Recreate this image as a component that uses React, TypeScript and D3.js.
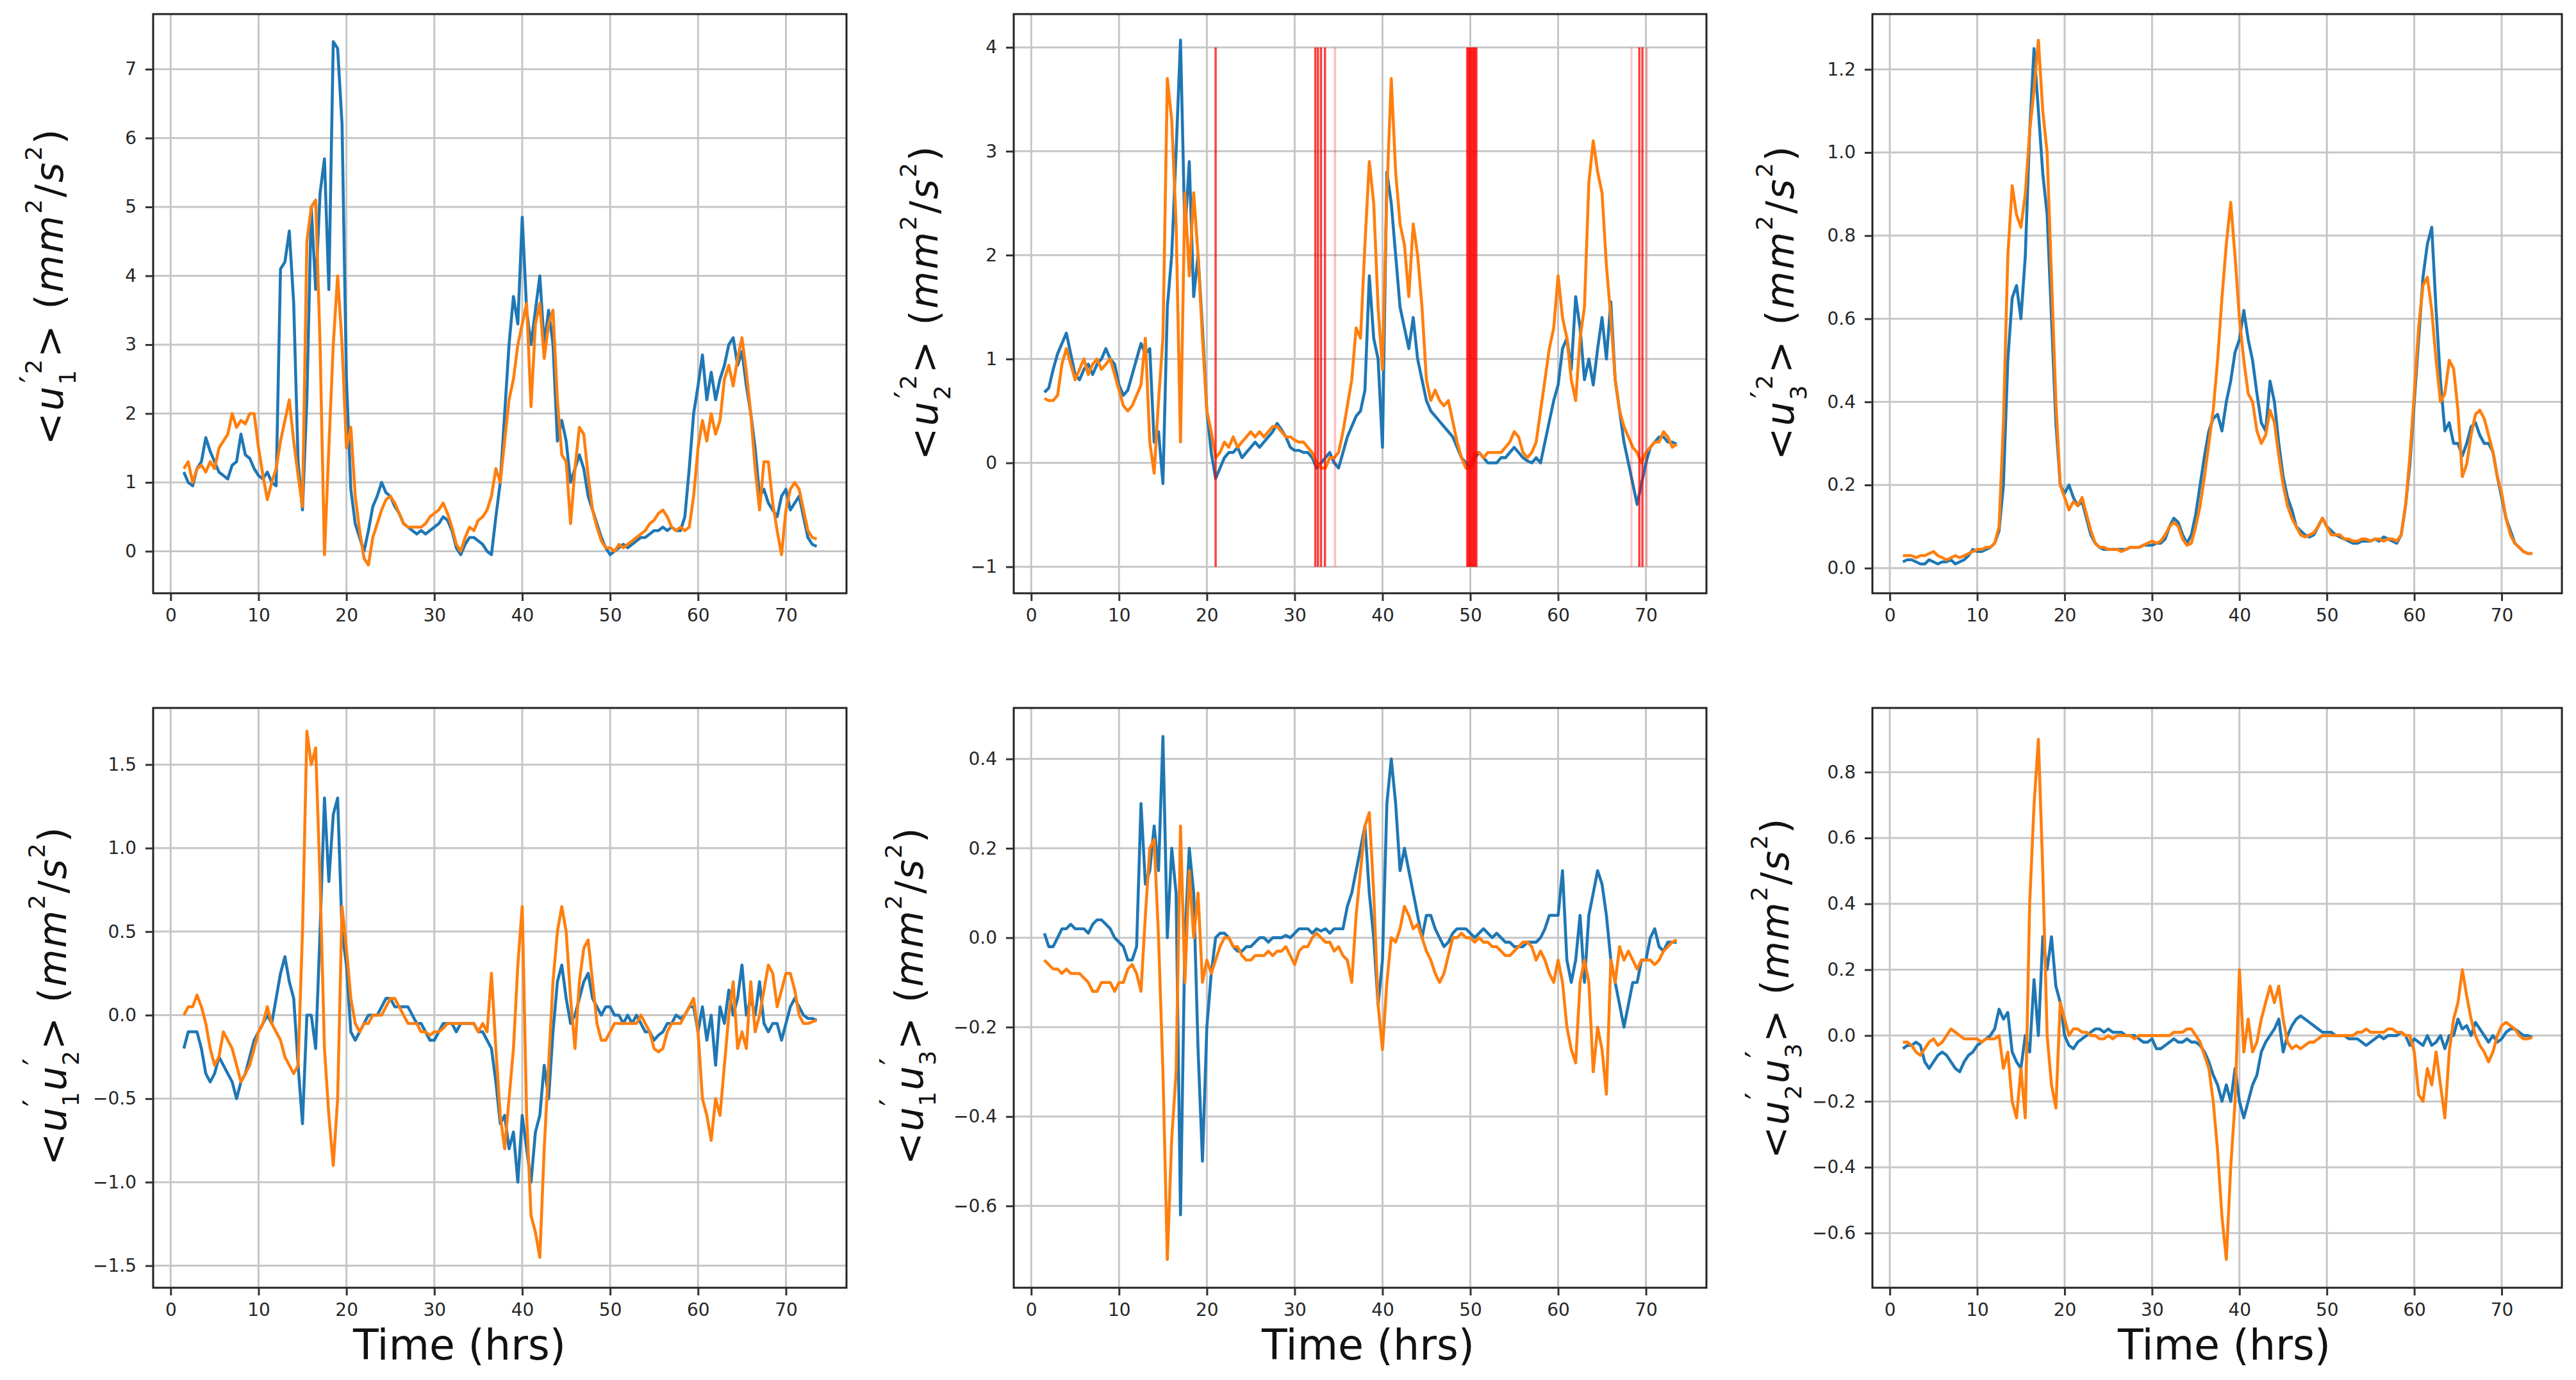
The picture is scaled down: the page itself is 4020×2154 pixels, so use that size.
// Velocity fluctuation statistics - 2x3 grid of time series
import React, { useEffect, useRef } from 'react';
import * as d3 from 'd3';

// time axis (hrs): one reading every half hour, 1.5 .. 73.5
const hours = d3.range(145).map(i => 1.5 + i * 0.5);

// <u1'^2>
const u11Blue = [
  1.15, 1.0, 0.95, 1.2, 1.3, 1.65, 1.45, 1.3, 1.15, 1.1,
  1.05, 1.25, 1.3, 1.7, 1.4, 1.35, 1.2, 1.1, 1.05, 1.15,
  1.0, 0.95, 4.1, 4.2, 4.65, 3.6, 1.3, 0.6, 2.2, 5.0,
  3.8, 5.2, 5.7, 3.8, 7.4, 7.3, 6.2, 2.5, 0.9, 0.4,
  0.2, 0.0, 0.3, 0.65, 0.8, 1.0, 0.85, 0.8, 0.65, 0.55,
  0.4, 0.35, 0.3, 0.25, 0.3, 0.25, 0.3, 0.35, 0.4, 0.5,
  0.45, 0.3, 0.05, -0.05, 0.1, 0.2, 0.2, 0.15, 0.1, 0.0,
  -0.05, 0.5, 1.0, 2.0, 3.0, 3.7, 3.3, 4.85, 3.5, 3.0,
  3.5, 4.0, 3.0, 3.5, 3.0, 1.6, 1.9, 1.6, 1.0, 1.2,
  1.4, 1.2, 0.8, 0.6, 0.4, 0.2, 0.05, -0.05, 0.0, 0.05,
  0.1, 0.05, 0.1, 0.15, 0.2, 0.2, 0.25, 0.3, 0.3, 0.35,
  0.3, 0.35, 0.3, 0.3, 0.5, 1.2, 2.0, 2.4, 2.85, 2.2,
  2.6, 2.2, 2.5, 2.7, 3.0, 3.1, 2.7, 2.9, 2.4, 2.0,
  1.5, 0.8, 0.9, 0.7, 0.6, 0.5, 0.8, 0.9, 0.6, 0.7,
  0.8, 0.5, 0.2, 0.1, 0.07
];
const u11Orange = [
  1.2, 1.3, 1.0, 1.2, 1.25, 1.15, 1.3, 1.2, 1.5, 1.6,
  1.7, 2.0, 1.8, 1.9, 1.85, 2.0, 2.0, 1.5, 1.1, 0.75,
  1.0, 1.2, 1.6, 1.9, 2.2, 1.6, 1.1, 0.65, 4.5, 5.0,
  5.1, 3.0, -0.05, 1.5, 3.0, 4.0, 3.0, 1.5, 1.8, 0.8,
  0.3, -0.1, -0.2, 0.2, 0.4, 0.6, 0.75, 0.8, 0.7, 0.55,
  0.4, 0.35, 0.35, 0.35, 0.35, 0.4, 0.5, 0.55, 0.6, 0.7,
  0.55, 0.35, 0.1, 0.0, 0.2, 0.35, 0.3, 0.45, 0.5, 0.6,
  0.8, 1.2, 1.0, 1.6, 2.2, 2.5, 3.0, 3.3, 3.6, 2.1,
  3.3, 3.6, 2.8, 3.3, 3.5, 2.2, 1.4, 1.3, 0.4, 1.2,
  1.8, 1.7, 1.1, 0.6, 0.35, 0.15, 0.05, 0.05, 0.0, 0.1,
  0.05, 0.1, 0.15, 0.2, 0.25, 0.3, 0.4, 0.45, 0.55, 0.6,
  0.5, 0.35, 0.3, 0.35, 0.3, 0.35, 0.8, 1.5, 1.9, 1.6,
  2.0, 1.7, 1.9, 2.5, 2.7, 2.4, 2.8, 3.1, 2.6, 2.0,
  1.2, 0.6, 1.3, 1.3, 0.7, 0.3, -0.05, 0.6, 0.9, 1.0,
  0.9, 0.6, 0.3, 0.2, 0.18
];

// <u2'^2>
const u22Blue = [
  0.68, 0.72, 0.9, 1.05, 1.15, 1.25, 1.05, 0.85, 0.8, 0.9,
  0.95, 0.85, 0.95, 1.0, 1.1, 1.0, 0.95, 0.75, 0.65, 0.7,
  0.85, 1.0, 1.15, 1.05, 1.1, 0.2, 0.3, -0.2, 1.5, 2.0,
  3.0, 4.07, 2.2, 2.9, 1.6, 2.0, 1.3, 0.5, 0.1, -0.15,
  -0.05, 0.05, 0.1, 0.1, 0.15, 0.05, 0.1, 0.15, 0.2, 0.15,
  0.2, 0.25, 0.3, 0.38, 0.32, 0.25, 0.15, 0.12, 0.12, 0.1,
  0.1, 0.05, -0.05, 0.0, 0.05, 0.1, 0.0, -0.05, 0.1, 0.25,
  0.35, 0.45, 0.5, 0.7, 1.8, 1.2, 1.0, 0.15, 2.8, 2.5,
  2.0, 1.5, 1.3, 1.1, 1.4, 1.0, 0.8, 0.6, 0.5, 0.45,
  0.4, 0.35, 0.3, 0.25, 0.15, 0.05, 0.0, -0.05, 0.05, 0.1,
  0.05, 0.0, 0.0, 0.0, 0.05, 0.05, 0.1, 0.15, 0.1, 0.05,
  0.02, 0.0, 0.05, 0.0, 0.2, 0.4, 0.6, 0.75, 1.1, 1.2,
  0.9, 1.6, 1.3, 0.8, 1.0, 0.75, 1.1, 1.4, 1.0, 1.55,
  0.8, 0.5, 0.2, 0.0, -0.2, -0.4, -0.2, 0.0, 0.15, 0.2,
  0.25, 0.25, 0.2, 0.2, 0.18
];
const u22Orange = [
  0.62, 0.6, 0.6, 0.65, 0.95, 1.1, 0.95, 0.8, 0.9, 1.0,
  0.85, 0.95, 1.0, 0.9, 0.95, 1.0, 0.85, 0.7, 0.55, 0.5,
  0.55, 0.65, 0.75, 1.2, 0.2, -0.1, 0.6, 1.2, 3.7, 3.3,
  2.3, 0.2, 2.6, 1.8, 2.6, 2.0, 1.2, 0.5, 0.3, 0.05,
  0.1, 0.2, 0.15, 0.25, 0.15, 0.2, 0.25, 0.3, 0.25, 0.3,
  0.25, 0.3, 0.35, 0.35, 0.3, 0.25, 0.25, 0.22, 0.2, 0.2,
  0.15, 0.1, 0.0, -0.05, -0.05, 0.05, 0.05, 0.1, 0.3, 0.55,
  0.8, 1.3, 1.2, 2.1, 2.9, 2.5, 1.5, 0.9, 2.6, 3.7,
  2.8, 2.3, 2.1, 1.6, 2.3, 2.0, 1.5, 0.8, 0.6, 0.7,
  0.6, 0.55, 0.6, 0.4, 0.2, 0.05, -0.05, -0.05, 0.1, 0.1,
  0.05, 0.1, 0.1, 0.1, 0.1, 0.15, 0.2, 0.3, 0.25, 0.1,
  0.05, 0.1, 0.2, 0.5, 0.8, 1.1, 1.3, 1.8, 1.4, 1.2,
  0.8, 0.6, 1.2, 1.5, 2.7, 3.1, 2.8, 2.6, 1.9, 1.4,
  0.8, 0.5, 0.35, 0.25, 0.15, 0.1, 0.0, 0.1, 0.15, 0.2,
  0.2, 0.3, 0.25, 0.15, 0.18
];

// <u3'^2>
const u33Blue = [
  0.015, 0.02, 0.02, 0.015, 0.01, 0.01, 0.02, 0.015, 0.01, 0.015,
  0.015, 0.02, 0.01, 0.015, 0.02, 0.03, 0.045, 0.04, 0.04, 0.045,
  0.05, 0.06, 0.09, 0.2, 0.5, 0.65, 0.68, 0.6, 0.75, 1.05,
  1.25, 1.1, 0.95, 0.85, 0.6, 0.35, 0.2, 0.18, 0.2, 0.17,
  0.15, 0.16, 0.12, 0.08, 0.06, 0.05, 0.045, 0.045, 0.045, 0.045,
  0.045, 0.045, 0.05, 0.05, 0.05, 0.055, 0.055, 0.055, 0.06, 0.06,
  0.07, 0.1, 0.12, 0.11, 0.08, 0.06, 0.08, 0.13, 0.2, 0.27,
  0.33, 0.36, 0.37, 0.33, 0.4, 0.45, 0.52, 0.55, 0.62, 0.55,
  0.5, 0.42, 0.35, 0.33, 0.45, 0.4, 0.3, 0.22, 0.17, 0.14,
  0.1, 0.09, 0.08, 0.075, 0.08, 0.1, 0.12, 0.1, 0.09, 0.08,
  0.075, 0.07, 0.065, 0.06, 0.06, 0.065, 0.065, 0.065, 0.07, 0.065,
  0.075, 0.07, 0.065, 0.06, 0.08, 0.15, 0.25, 0.4, 0.55, 0.7,
  0.78, 0.82, 0.62, 0.45, 0.33, 0.35, 0.3, 0.3, 0.27, 0.3,
  0.34, 0.35, 0.32, 0.3, 0.3, 0.28, 0.22, 0.17, 0.12, 0.09,
  0.06, 0.05, 0.04, 0.035, 0.035
];
const u33Orange = [
  0.03, 0.03, 0.03, 0.025, 0.03, 0.03, 0.035, 0.04, 0.03, 0.025,
  0.02, 0.025, 0.03, 0.025, 0.03, 0.035, 0.04, 0.045, 0.045, 0.05,
  0.05, 0.06, 0.1, 0.35, 0.75, 0.92, 0.85, 0.82, 0.9, 1.05,
  1.15, 1.27, 1.1, 1.0, 0.7, 0.4, 0.2, 0.17, 0.14, 0.16,
  0.15, 0.17, 0.13, 0.09, 0.06, 0.05, 0.05, 0.045, 0.045, 0.045,
  0.04, 0.045, 0.05, 0.05, 0.05, 0.055, 0.06, 0.065, 0.06, 0.065,
  0.08, 0.1, 0.11, 0.1, 0.07, 0.055, 0.06, 0.1, 0.15, 0.22,
  0.3, 0.38, 0.5, 0.65, 0.78, 0.88, 0.75, 0.6, 0.5, 0.42,
  0.4, 0.33, 0.3, 0.32, 0.38, 0.35, 0.27, 0.2, 0.15, 0.12,
  0.1, 0.08, 0.075, 0.08, 0.085, 0.1, 0.12, 0.1, 0.08, 0.08,
  0.08, 0.07, 0.07, 0.065, 0.065, 0.07, 0.07, 0.065, 0.07, 0.07,
  0.065, 0.07, 0.07, 0.065, 0.08, 0.15, 0.27, 0.42, 0.58, 0.68,
  0.7, 0.62, 0.5, 0.4, 0.42, 0.5, 0.48, 0.38, 0.22, 0.25,
  0.32, 0.37, 0.38, 0.36, 0.32, 0.28, 0.22, 0.18, 0.12, 0.08,
  0.06, 0.05, 0.04, 0.035, 0.035
];

// <u1'u2'>
const u12Blue = [
  -0.2, -0.1, -0.1, -0.1, -0.2, -0.35, -0.4, -0.35, -0.25, -0.3,
  -0.35, -0.4, -0.5, -0.4, -0.35, -0.25, -0.15, -0.1, -0.05, 0.0,
  -0.05, 0.1, 0.25, 0.35, 0.2, 0.1, -0.3, -0.65, 0.0, 0.0,
  -0.2, 0.5, 1.3, 0.8, 1.2, 1.3, 0.5, 0.3, -0.1, -0.15,
  -0.1, -0.05, 0.0, 0.0, 0.0, 0.05, 0.1, 0.1, 0.05, 0.05,
  0.05, 0.05, 0.0, -0.05, -0.05, -0.1, -0.15, -0.15, -0.1, -0.05,
  -0.05, -0.05, -0.1, -0.05, -0.05, -0.05, -0.05, -0.1, -0.1, -0.15,
  -0.2, -0.4, -0.65, -0.6, -0.8, -0.7, -1.0, -0.6, -0.8, -1.0,
  -0.7, -0.6, -0.3, -0.5, -0.1, 0.2, 0.3, 0.1, -0.05, 0.0,
  0.1, 0.2, 0.25, 0.1, 0.05, 0.0, 0.05, 0.05, 0.0, 0.0,
  -0.05, 0.0, -0.05, 0.0, -0.05, -0.1, -0.1, -0.15, -0.12, -0.1,
  -0.05, -0.05, 0.0, -0.02, 0.0, 0.05, 0.05, -0.1, 0.05, -0.15,
  0.0, -0.3, 0.05, -0.05, 0.15, 0.0, 0.1, 0.3, 0.0, 0.1,
  0.0, 0.2, -0.05, -0.1, -0.05, -0.05, -0.15, -0.05, 0.05, 0.1,
  0.05, 0.0, -0.02, -0.02, -0.03
];
const u12Orange = [
  0.0, 0.05, 0.05, 0.12, 0.05, -0.05, -0.2, -0.3, -0.25, -0.1,
  -0.15, -0.2, -0.3, -0.4, -0.35, -0.3, -0.2, -0.1, -0.05, 0.05,
  -0.05, -0.1, -0.15, -0.25, -0.3, -0.35, -0.3, 0.5, 1.7, 1.5,
  1.6, 0.8, -0.2, -0.6, -0.9, -0.5, 0.65, 0.4, 0.1, -0.05,
  -0.1, -0.05, -0.05, 0.0, 0.0, 0.0, 0.05, 0.1, 0.1, 0.05,
  0.0, -0.05, -0.05, -0.05, -0.1, -0.1, -0.12, -0.1, -0.1, -0.08,
  -0.05, -0.05, -0.05, -0.05, -0.05, -0.05, -0.05, -0.1, -0.05, -0.1,
  0.25, -0.2, -0.6, -0.8, -0.5, -0.2, 0.3, 0.65, -0.6, -1.2,
  -1.3, -1.45, -0.8, -0.3, 0.2, 0.5, 0.65, 0.5, 0.1, -0.2,
  0.2, 0.4, 0.45, 0.2, -0.05, -0.15, -0.15, -0.1, -0.05, -0.05,
  -0.05, -0.05, -0.05, -0.05, 0.0, -0.05, -0.1, -0.2, -0.22, -0.2,
  -0.1, -0.05, -0.05, -0.05, 0.0, 0.05, 0.1, -0.1, -0.5, -0.6,
  -0.75, -0.5, -0.6, -0.3, 0.0, 0.2, -0.2, -0.1, -0.2, 0.2,
  -0.1, 0.0, 0.15, 0.3, 0.25, 0.05, 0.15, 0.25, 0.25, 0.15,
  0.0, -0.05, -0.05, -0.04, -0.03
];

// <u1'u3'>
const u13Blue = [
  0.01, -0.02, -0.02, 0.0, 0.02, 0.02, 0.03, 0.02, 0.02, 0.02,
  0.01, 0.03, 0.04, 0.04, 0.03, 0.02, 0.0, -0.01, -0.02, -0.05,
  -0.05, -0.02, 0.3, 0.12, 0.15, 0.25, 0.15, 0.45, 0.0, 0.2,
  0.1, -0.62, 0.0, 0.2, 0.1, -0.25, -0.5, -0.2, -0.08, 0.0,
  0.01, 0.01, 0.0, -0.02, -0.03, -0.03, -0.02, -0.02, -0.01, 0.0,
  0.0, -0.01, 0.0, 0.0, 0.0, 0.005, 0.0, 0.01, 0.02, 0.02,
  0.02, 0.01, 0.02, 0.015, 0.02, 0.01, 0.02, 0.02, 0.02, 0.07,
  0.1, 0.15, 0.2, 0.25, 0.1, 0.0, -0.15, -0.05, 0.3, 0.4,
  0.3, 0.15, 0.2, 0.15, 0.1, 0.05, 0.0, 0.05, 0.05, 0.02,
  0.0, -0.02, -0.01, 0.01, 0.02, 0.02, 0.02, 0.01, 0.0, 0.01,
  0.02, 0.01, 0.0, 0.01, 0.0, -0.01, -0.01, -0.02, -0.02, -0.02,
  -0.01, -0.01, -0.01, 0.0, 0.02, 0.05, 0.05, 0.05, 0.15, -0.05,
  -0.1, -0.05, 0.05, -0.1, 0.05, 0.1, 0.15, 0.12, 0.05, -0.05,
  -0.1, -0.15, -0.2, -0.15, -0.1, -0.1, -0.05, -0.05, 0.0, 0.02,
  -0.02, -0.03, -0.01, -0.01, -0.01
];
const u13Orange = [
  -0.05, -0.06, -0.07, -0.07, -0.08, -0.07, -0.08, -0.08, -0.08, -0.09,
  -0.1, -0.12, -0.12, -0.1, -0.1, -0.1, -0.12, -0.1, -0.1, -0.07,
  -0.06, -0.08, -0.12, 0.05, 0.2, 0.22, 0.0, -0.3, -0.72, -0.45,
  -0.3, 0.25, -0.1, 0.15, 0.0, 0.1, -0.1, -0.05, -0.08, -0.05,
  -0.02, 0.0, 0.0, -0.02, -0.02, -0.04, -0.05, -0.05, -0.04, -0.04,
  -0.04, -0.03, -0.04, -0.03, -0.03, -0.02, -0.04, -0.06, -0.03, -0.02,
  -0.02, 0.0, 0.01, 0.0, -0.01, -0.01, -0.03, -0.02, -0.04, -0.05,
  -0.1, 0.05, 0.15, 0.25, 0.28, 0.1, -0.15, -0.25, -0.1, 0.0,
  -0.01, 0.02, 0.07, 0.05, 0.02, 0.03, 0.0, -0.03, -0.05, -0.08,
  -0.1, -0.08, -0.04, 0.0, 0.0, 0.01, 0.0, 0.0, -0.01, 0.0,
  -0.01, -0.01, -0.02, -0.02, -0.03, -0.04, -0.04, -0.03, -0.02, -0.01,
  -0.01, -0.02, -0.05, -0.03, -0.05, -0.08, -0.1, -0.05, -0.1, -0.2,
  -0.25, -0.28, -0.1, -0.05, -0.1, -0.3, -0.2, -0.25, -0.35, -0.05,
  -0.1, -0.02, -0.05, -0.03, -0.05, -0.07, -0.05, -0.05, -0.05, -0.06,
  -0.05, -0.03, -0.02, -0.01, -0.005
];

// <u2'u3'>
const u23Blue = [
  -0.04, -0.03, -0.03, -0.02, -0.03, -0.08, -0.1, -0.08, -0.06, -0.05,
  -0.06, -0.08, -0.1, -0.11, -0.08, -0.06, -0.05, -0.03, -0.02, -0.01,
  0.0, 0.02, 0.08, 0.05, 0.07, -0.05, -0.08, -0.1, 0.0, -0.05,
  0.17, 0.0, 0.3, 0.2, 0.3, 0.15, 0.1, 0.0, -0.03, -0.04,
  -0.02, -0.01, 0.0, 0.01, 0.02, 0.02, 0.01, 0.02, 0.01, 0.01,
  0.01, 0.0, 0.0, 0.0, -0.01, -0.02, -0.02, -0.01, -0.04, -0.04,
  -0.03, -0.02, -0.01, -0.02, -0.02, -0.01, -0.02, -0.02, -0.03, -0.05,
  -0.08, -0.12, -0.15, -0.2, -0.15, -0.2, -0.1, -0.2, -0.25, -0.2,
  -0.15, -0.12, -0.05, -0.02, 0.0, 0.02, 0.05, -0.05, 0.0, 0.03,
  0.05, 0.06, 0.05, 0.04, 0.03, 0.02, 0.01, 0.01, 0.01, 0.0,
  0.0, 0.0, -0.01, -0.01, -0.01, -0.02, -0.03, -0.02, -0.01, 0.0,
  -0.01, 0.0, 0.0, 0.0, 0.01, 0.0, -0.03, -0.01, -0.02, -0.03,
  0.0, -0.03, -0.02, 0.0, -0.04, 0.0, 0.0, 0.05, 0.02, 0.03,
  0.0, 0.04, 0.02, 0.0, -0.02, 0.0, -0.02, -0.01, 0.01, 0.02,
  0.02, 0.01, 0.0, 0.0, -0.005
];
const u23Orange = [
  -0.02, -0.02, -0.03, -0.05, -0.06, -0.04, -0.02, -0.01, -0.03, -0.02,
  0.0, 0.02, 0.01, 0.0, -0.01, -0.01, -0.01, -0.01, -0.02, -0.01,
  -0.01, -0.01, 0.0, -0.1, -0.05, -0.2, -0.25, -0.1, -0.25, 0.4,
  0.7, 0.9, 0.5, 0.0, -0.15, -0.22, 0.1, 0.05, 0.0, 0.02,
  0.02, 0.01, 0.01, 0.0, 0.0, -0.01, -0.01, 0.0, -0.01, 0.0,
  0.0, 0.0, 0.0, -0.01, 0.0, 0.0, 0.0, 0.0, 0.0, 0.0,
  0.0, 0.0, 0.01, 0.01, 0.01, 0.02, 0.02, 0.0, -0.02, -0.06,
  -0.1, -0.2, -0.35, -0.55, -0.68, -0.4, -0.2, 0.2, -0.05, 0.05,
  -0.05, -0.02, 0.05, 0.1, 0.15, 0.1, 0.15, 0.05, -0.02, -0.04,
  -0.03, -0.04, -0.03, -0.02, -0.02, -0.01, 0.0, 0.0, 0.0, 0.0,
  0.0, 0.0, 0.0, 0.0, 0.01, 0.01, 0.02, 0.01, 0.01, 0.01,
  0.01, 0.02, 0.02, 0.01, 0.01, 0.0, 0.0, -0.05, -0.18, -0.2,
  -0.1, -0.15, -0.05, -0.15, -0.25, -0.05, 0.05, 0.1, 0.2, 0.12,
  0.05, 0.0, -0.03, -0.05, -0.08, -0.05, 0.0, 0.03, 0.04, 0.03,
  0.02, 0.0, -0.01, -0.01, -0.005
];

// flagged instants drawn as red verticals on the <u2'^2> panel
const flagHours = [21.0, 32.35, 32.65, 33.0, 33.45, 34.6, 49.65, 49.8, 49.95, 50.1, 50.25, 50.4, 50.55, 50.7, 68.35, 69.25, 69.6, 70.1];
const flagAlpha = [0.75, 0.75, 0.75, 0.75, 0.75, 0.25, 0.75, 0.75, 0.75, 0.75, 0.75, 0.75, 0.75, 0.75, 0.2, 0.75, 0.75, 0.25];

// axis ranges and ticks
const xLimits = [-1.99, 76.89];
const xTicks = [0, 10, 20, 30, 40, 50, 60, 70];
const yLimits = [[-0.61, 7.8], [-1.255, 4.32], [-0.0605, 1.333], [-1.632, 1.839], [-0.783, 0.514], [-0.766, 0.995]];
const yTicks = [
  [0, 1, 2, 3, 4, 5, 6, 7],
  [-1, 0, 1, 2, 3, 4],
  [0, 0.2, 0.4, 0.6, 0.8, 1.0, 1.2],
  [-1.5, -1.0, -0.5, 0, 0.5, 1.0, 1.5],
  [-0.6, -0.4, -0.2, 0, 0.2, 0.4],
  [-0.6, -0.4, -0.2, 0, 0.2, 0.4, 0.6, 0.8]
];
const yFormats = ['d', 'd', '.1f', '.1f', '.1f', '.1f'];

type Part = { t: string; it?: boolean; pos?: 'sup' | 'sub'; dx?: number; big?: boolean };
const units: Part[] = [
  { t: '\u00a0(' }, { t: 'mm', it: true }, { t: '2', pos: 'sup' }, { t: '/' },
  { t: 's', it: true }, { t: '2', pos: 'sup' }, { t: ')' }
];
const squared = (k: string): Part[] => [
  { t: '<' }, { t: 'u', it: true }, { t: k, pos: 'sub' }, { t: '\u2032', pos: 'sup', dx: -0.38, big: true },
  { t: '2', pos: 'sup' }, { t: '>' }, ...units
];
const cross = (a: string, b: string): Part[] => [
  { t: '<' }, { t: 'u', it: true }, { t: '\u2032', pos: 'sup', big: true }, { t: a, pos: 'sub', dx: -0.22 },
  { t: 'u', it: true }, { t: '\u2032', pos: 'sup', big: true }, { t: b, pos: 'sub', dx: -0.22 }, { t: '>' }, ...units
];
const yLabels = [squared('1'), squared('2'), squared('3'), cross('1', '2'), cross('1', '3'), cross('2', '3')];

const series = [
  [u11Blue, u11Orange], [u22Blue, u22Orange], [u33Blue, u33Orange],
  [u12Blue, u12Orange], [u13Blue, u13Orange], [u23Blue, u23Orange]
];

// layout (px)
const W = 4020;
const H = 2154;
const frameX = [239, 1582, 2922];
const frameW = [1082, 1081, 1076];
const frameY = [22, 1105];
const frameH = [904, 905];
const labelX = [98, 1463, 2799, 103, 1440, 2791];
const labelY = [448, 473, 473, 1555, 1555, 1543];
const labelLen = [493, 490, 490, 528, 526, 531];
const timeLabelX = [717, 2135, 3471];

const BLUE = '#1f77b4';
const ORANGE = '#ff7f0e';
const FONT = 'DejaVu Sans';

export default function App() {
  const svgRef = useRef<SVGSVGElement>(null);

  useEffect(() => {
    if (!svgRef.current) return;
    const svg = d3.select(svgRef.current);
    svg.selectAll('*').remove();

    svg.append('rect').attr('width', W).attr('height', H).attr('fill', '#fff');

    series.forEach((pair, k) => {
      const col = k % 3;
      const row = Math.floor(k / 3);
      const x0 = frameX[col], w = frameW[col];
      const y0 = frameY[row], h = frameH[row];

      const x = d3.scaleLinear().domain(xLimits).range([x0, x0 + w]);
      const y = d3.scaleLinear().domain(yLimits[k]).range([y0 + h, y0]);
      const g = svg.append('g');

      // grid
      g.selectAll('.gx').data(xTicks).join('line')
        .attr('x1', d => x(d)).attr('x2', d => x(d))
        .attr('y1', y0).attr('y2', y0 + h)
        .attr('stroke', '#c6c6c6').attr('stroke-width', 3);
      g.selectAll('.gy').data(yTicks[k]).join('line')
        .attr('x1', x0).attr('x2', x0 + w)
        .attr('y1', d => y(d)).attr('y2', d => y(d))
        .attr('stroke', '#c6c6c6').attr('stroke-width', 3);

      // series
      const line = d3.line<number>()
        .x((_, i) => x(hours[i]))
        .y(d => y(d));
      g.append('path').datum(pair[0]).attr('d', line)
        .attr('fill', 'none').attr('stroke', BLUE).attr('stroke-width', 4.6)
        .attr('stroke-linejoin', 'round');
      g.append('path').datum(pair[1]).attr('d', line)
        .attr('fill', 'none').attr('stroke', ORANGE).attr('stroke-width', 4.6)
        .attr('stroke-linejoin', 'round');

      // red flags on <u2'^2>
      if (k === 1) {
        g.selectAll('.flag').data(flagHours).join('line')
          .attr('x1', d => x(d)).attr('x2', d => x(d))
          .attr('y1', y(-1)).attr('y2', y(4))
          .attr('stroke', 'red').attr('stroke-width', 3.5)
          .attr('stroke-opacity', (_, i) => flagAlpha[i]);
      }

      // frame
      g.append('rect')
        .attr('x', x0).attr('y', y0).attr('width', w).attr('height', h)
        .attr('fill', 'none').attr('stroke', '#222').attr('stroke-width', 3);

      // axes
      const xAxis = g.append('g')
        .attr('transform', `translate(0,${y0 + h})`)
        .call(d3.axisBottom(x).tickValues(xTicks).tickSize(12).tickPadding(12).tickFormat(d3.format('d')));
      const yAxis = g.append('g')
        .attr('transform', `translate(${x0},0)`)
        .call(d3.axisLeft(y).tickValues(yTicks[k]).tickSize(12).tickPadding(14).tickFormat(d3.format(yFormats[k])));
      [xAxis, yAxis].forEach(ax => {
        ax.select('.domain').remove();
        ax.selectAll('.tick line').attr('stroke', '#333').attr('stroke-width', 3);
        ax.selectAll('.tick text')
          .attr('fill', '#262626')
          .style('font-family', FONT)
          .style('font-size', '28px');
      });

      // y label with mathtext-like super/subscripts
      const F = 60;
      const label = svg.append('text')
        .attr('transform', `translate(${labelX[k]},${labelY[k]}) rotate(-90)`)
        .attr('text-anchor', 'middle')
        .attr('textLength', labelLen[k])
        .attr('lengthAdjust', 'spacing')
        .attr('fill', '#111')
        .style('font-family', FONT)
        .style('font-size', `${F}px`);
      let shift = 0;
      yLabels[k].forEach(p => {
        const target = p.pos === 'sup' ? -0.55 * F : p.pos === 'sub' ? 0.33 * F : 0;
        const size = p.big ? 0.8 * F : p.pos ? 0.6 * F : F;
        const ts = label.append('tspan')
          .attr('dy', target - shift)
          .style('font-style', p.it ? 'italic' : 'normal')
          .style('font-size', `${size}px`)
          .text(p.t);
        if (p.dx) ts.attr('dx', p.dx * F);
        shift = target;
      });

      if (row === 1) {
        svg.append('text')
          .attr('x', timeLabelX[col]).attr('y', 2122)
          .attr('text-anchor', 'middle')
          .attr('fill', '#111')
          .style('font-family', FONT)
          .style('font-size', '65px')
          .text('Time (hrs)');
      }
    });
  }, []);

  return (
    <svg
      ref={svgRef}
      width={W}
      height={H}
      style={{ position: 'absolute', left: 0, top: 0, display: 'block' }}
    />
  );
}
